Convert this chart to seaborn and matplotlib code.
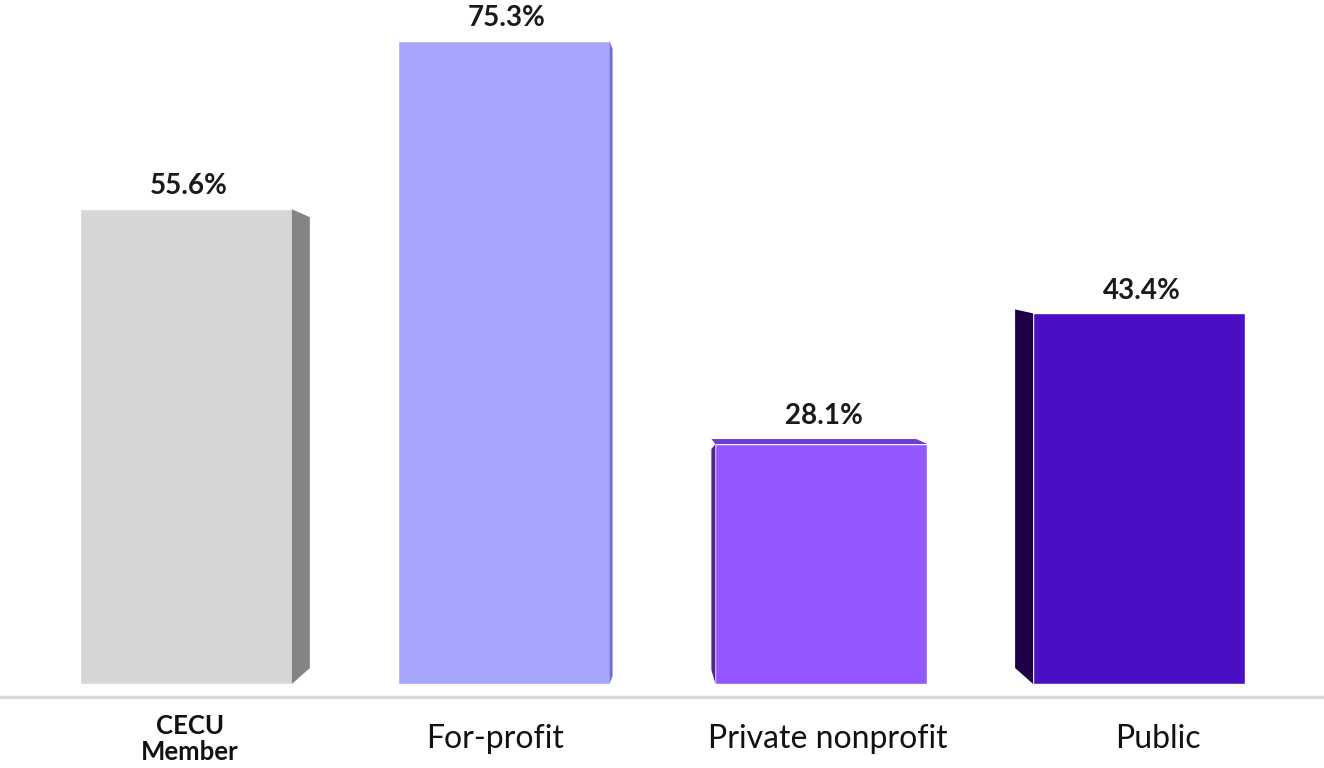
import matplotlib
matplotlib.use("Agg")
import matplotlib.pyplot as plt
import matplotlib.transforms as mtransforms
from matplotlib.patches import Polygon
import seaborn as sns
import pandas as pd

categories = ["CECU\nMember", "For-profit", "Private nonprofit", "Public"]
values = [55.6, 75.3, 28.1, 43.4]
value_labels = ["55.6%", "75.3%", "28.1%", "43.4%"]

front_colors = ["#d7d5d7", "#a6a6ff", "#9456ff", "#4a0fc5"]
side_colors = ["#858385", "#6d6dd8", "#4e2a99", "#1b0047"]
top_colors = [None, None, "#6b3dd1", None]

df = pd.DataFrame({"category": categories, "value": values})

sns.set_theme(style="white")
plt.rcParams["font.family"] = ["Lato", "DejaVu Sans"]

DPI = 100
fig = plt.figure(figsize=(13.24, 7.68), dpi=DPI)
ax = fig.add_axes([0, (768 - 697) / 768, 1, 697 / 768])

sns.barplot(data=df, x="category", y="value", hue="category",
            palette=front_colors, legend=False, width=0.667,
            saturation=1, ax=ax, zorder=3)

ax.set_xlim(-0.585, 3.582)
ax.set_ylim(-1.52, 80.1)

fig.canvas.draw()
# pixel-to-data scale
x0, x1 = ax.get_xlim(); y0, y1 = ax.get_ylim()
px_x = (x1 - x0) / 1324.0
px_y = (y1 - y0) / 697.0

# 3D side faces: (side, depth_px, top_drop_px, bottom_rise_px)
faces = [("right", 18, 8, 16), ("right", 3, 8, 8), ("left", 4, 5, 14), ("left", 18, -4, 16)]

for i, p in enumerate(ax.patches[:len(values)]):
    bx, bw, bh = p.get_x(), p.get_width(), p.get_height()
    side, d, drop, rise = faces[i]
    dx = d * px_x
    if side == "right":
        xe = bx + bw
        poly = [(xe, bh), (xe + dx, bh - drop * px_y), (xe + dx, rise * px_y), (xe, 0)]
    else:
        xe = bx
        poly = [(xe, bh), (xe - dx, bh - drop * px_y), (xe - dx, rise * px_y), (xe, 0)]
    ax.add_patch(Polygon(poly, closed=True, facecolor=side_colors[i],
                         edgecolor="none", zorder=3))
    if top_colors[i]:
        th = drop * px_y
        poly = [(bx - dx, bh + th), (bx + bw - 11 * px_x, bh + th), (bx + bw, bh), (bx, bh)]
        ax.add_patch(Polygon(poly, closed=True, facecolor=top_colors[i],
                             edgecolor="none", zorder=3))

# value labels
for i, p in enumerate(ax.patches[:len(values)]):
    cx = p.get_x() + p.get_width() / 2
    extra = 5 * px_y if top_colors[i] else 0
    ax.annotate(value_labels[i], (cx, p.get_height() + extra), xytext=(2, 7),
                textcoords="offset points", ha="center", va="bottom",
                fontsize=20, fontweight="bold", color="#1a1a1a")

for s in ["top", "left", "right"]:
    ax.spines[s].set_visible(False)
ax.spines["bottom"].set_color("#d9d9d9")
ax.spines["bottom"].set_linewidth(2.5)
ax.set_yticks([])
ax.set_xlabel("")
ax.set_ylabel("")
ax.tick_params(axis="x", length=0, pad=30)

label_dx = [4, -9, 6, 19]
for i, lab in enumerate(ax.get_xticklabels()):
    lab.set_verticalalignment("center")
    lab.set_color("#111111")
    if i == 0:
        lab.set_fontsize(18.5)
        lab.set_fontweight("bold")
        lab.set_linespacing(1.1)
    else:
        lab.set_fontsize(23)
    lab.set_transform(lab.get_transform() +
                      mtransforms.ScaledTranslation(label_dx[i] / 72.0 * 0.72, 0, fig.dpi_scale_trans))

fig.savefig("out.png", dpi=DPI, facecolor="white")
